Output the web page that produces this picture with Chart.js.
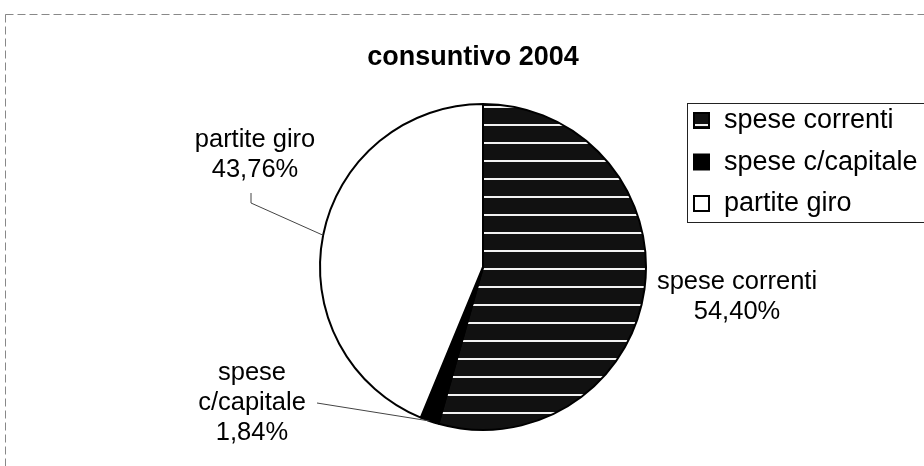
<!DOCTYPE html>
<html>
<head>
<meta charset="utf-8">
<script src="https://cdn.jsdelivr.net/npm/chart.js@4/dist/chart.umd.min.js"></script>
<style>
    html, body { margin: 0; padding: 0; background: #fff; }
    #wrap { width: 924px; height: 466px; }
</style>
</head>
<body>
<div id="wrap"><canvas id="pie-chart" width="924" height="466"></canvas></div>
<script>
// Chart data
const chartTitle = "consuntivo 2004";
const categories = ["spese correnti", "spese c/capitale", "partite giro"];
const shares = [54.40, 1.84, 43.76];
// how each data label is split on lines (last line is the percentage)
const labelLines = [["spese correnti"], ["spese", "c/capitale"], ["partite giro"]];

const FONT = "'Liberation Sans', Arial, sans-serif";

// Striped fill for "spese correnti"
function makeStripes() {
    const c = document.createElement('canvas');
    c.width = 8;
    c.height = 18;
    const g = c.getContext('2d');
    g.fillStyle = '#111';
    g.fillRect(0, 0, 8, 18);
    g.fillStyle = '#f2f2f2';
    g.fillRect(0, 16, 8, 2);
    return g.createPattern(c, 'repeat');
}

function fmtPct(v) {
    return v.toFixed(2).replace('.', ',') + '%';
}

// Label placement: text anchor and leader line start (null = no leader)
const labelPos = [
    { x: 737, y: 282, leader: null },
    { x: 252, y: 373, leader: [[317, 403]] },
    { x: 255, y: 140, leader: [[251, 193], [251, 203]] }
];

const decorPlugin = {
    id: 'decor',
    afterDraw(chart) {
        const ctx = chart.ctx;
        const meta = chart.getDatasetMeta(0);
        const fills = chart.data.datasets[0].backgroundColor;
        ctx.save();

        // outer frame
        ctx.setLineDash([8, 4]);
        ctx.strokeStyle = '#888';
        ctx.lineWidth = 1;
        ctx.strokeRect(5.5, 14.5, 960, 520);
        ctx.setLineDash([]);

        // title
        ctx.fillStyle = '#000';
        ctx.font = "bold 27px " + FONT;
        ctx.textAlign = 'center';
        ctx.textBaseline = 'middle';
        ctx.fillText(chartTitle, 473, 58);

        // data labels + leader lines
        ctx.font = "25.5px " + FONT;
        meta.data.forEach((arc, i) => {
            const p = labelPos[i];
            const lines = labelLines[i].concat([fmtPct(shares[i])]);
            lines.forEach((t, k) => ctx.fillText(t, p.x, p.y + k * 30));
            if (p.leader) {
                const mid = (arc.startAngle + arc.endAngle) / 2;
                const ex = arc.x + Math.cos(mid) * arc.outerRadius;
                const ey = arc.y + Math.sin(mid) * arc.outerRadius;
                ctx.strokeStyle = '#444';
                ctx.lineWidth = 1;
                ctx.beginPath();
                ctx.moveTo(p.leader[0][0], p.leader[0][1]);
                p.leader.slice(1).forEach(pt => ctx.lineTo(pt[0], pt[1]));
                ctx.lineTo(ex, ey);
                ctx.stroke();
            }
        });

        // legend
        ctx.strokeStyle = '#222';
        ctx.lineWidth = 1;
        ctx.strokeRect(687.5, 103.5, 300, 119);
        ctx.textAlign = 'left';
        ctx.font = "27px " + FONT;
        categories.forEach((name, i) => {
            const cy = 120 + i * 41.5;
            ctx.fillStyle = fills[i];
            ctx.fillRect(694, cy - 7, 15, 15);
            ctx.strokeStyle = '#000';
            ctx.lineWidth = 2;
            ctx.strokeRect(694, cy - 7, 15, 15);
            ctx.fillStyle = '#000';
            ctx.fillText(name, 724, cy + 1);
        });
        ctx.restore();
    }
};

function initPieChart() {
    const ctx = document.getElementById('pie-chart').getContext('2d');
    new Chart(ctx, {
        type: 'pie',
        data: {
            labels: categories,
            datasets: [{
                data: shares,
                backgroundColor: [makeStripes(), '#000', '#fff'],
                borderColor: '#000',
                borderWidth: 2
            }]
        },
        options: {
            responsive: false,
            animation: false,
            layout: { padding: { left: 319, right: 277, top: 103, bottom: 35 } },
            plugins: {
                legend: { display: false },
                title: { display: false },
                tooltip: { enabled: false }
            }
        },
        plugins: [decorPlugin]
    });
}

window.onload = initPieChart;
</script>
</body>
</html>
